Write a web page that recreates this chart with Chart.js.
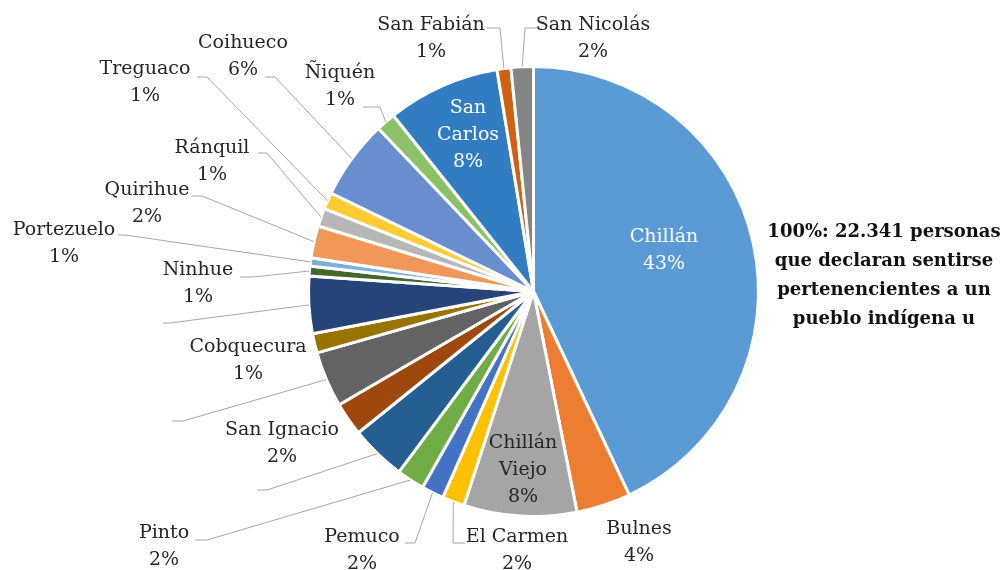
<!DOCTYPE html>
<html>
<head>
<meta charset="utf-8">
<script src="https://cdn.jsdelivr.net/npm/chart.js@4/dist/chart.umd.min.js"></script>
<style>
  body { margin: 0; background: #fff; }
  #wrap { width: 1008px; height: 570px; }
</style>
</head>
<body>
<div id="wrap"><canvas id="pie" width="1008" height="570"></canvas></div>
<script>
// comunas de Ñuble, en el orden del gráfico (sentido horario desde arriba)
const comunas = [
  "Chillán", "Bulnes", "Chillán Viejo", "El Carmen", "Pemuco", "Pinto", "Quillón",
  "San Ignacio", "Yungay", "Cobquecura", "Coelemu", "Ninhue", "Portezuelo", "Quirihue",
  "Ránquil", "Treguaco", "Coihueco", "Ñiquén", "San Carlos", "San Fabián", "San Nicolás"
];
// porcentaje (aprox.)
const porcentajes = [
  43.0, 3.9, 8.1, 1.6, 1.6, 2.0, 4.0,
  2.4, 4.0, 1.4, 4.1, 0.7, 0.6, 2.3,
  1.3, 1.2, 5.7, 1.4, 8.1, 1.0, 1.6
];
const colores = [
  "#5B9BD5", "#ED7D31", "#A5A5A5", "#FFC000", "#4472C4", "#70AD47", "#255E91",
  "#9E480E", "#636363", "#997300", "#264478", "#43682B", "#7CAFDD", "#F1975A",
  "#B7B7B7", "#FFCD33", "#698ED0", "#8CC168", "#327DC2", "#D26012", "#848484"
];
const nota = [
  "100%: 22.341 personas",
  "que declaran sentirse",
  "pertenencientes a un",
  "pueblo indígena u"
];

// donde va cada etiqueta: t = centro del texto (1a linea), codo = [x, y, x fin del tramo horizontal]
const posiciones = [
  { t: [664, 237], dentro: true, color: "#fff" },
  { t: [639, 529] },
  { t: [523, 443], dentro: true, partir: true },
  { t: [517, 537], codo: [453, 543, 465] },
  { t: [362, 537], codo: [415, 543, 405] },
  { t: [164, 533], codo: [207, 540, 195] },
  { oculta: true, codo: [267, 490, 257] },
  { t: [282, 430] },
  { oculta: true, codo: [183, 421, 172] },
  { t: [248, 347] },
  { oculta: true, codo: [170, 323, 163] },
  { t: [198, 270], codo: [253, 277, 240] },
  { t: [64, 230], codo: [125, 235, 118] },
  { t: [147, 190], codo: [202, 196, 192] },
  { t: [212, 148], codo: [267, 153, 258] },
  { t: [145, 69], codo: [207, 77, 197] },
  { t: [243, 43], codo: [275, 77, 265] },
  { t: [340, 73], codo: [380, 107, 363] },
  { t: [468, 108], dentro: true, partir: true, color: "#fff" },
  { t: [431, 25], codo: [500, 28, 487] },
  { t: [593, 25], codo: [525, 28, 537] }
];

const fuente = "19px 'DejaVu Serif'";

const etiquetas = {
  id: "etiquetas",
  afterDatasetsDraw(chart) {
    const ctx = chart.ctx;
    const meta = chart.getDatasetMeta(0);
    const total = porcentajes.reduce((a, b) => a + b, 0);
    meta.data.forEach((arc, i) => {
      const p = arc.getProps(["x", "y", "startAngle", "endAngle", "outerRadius"], true);
      const mid = (p.startAngle + p.endAngle) / 2;
      const pos = posiciones[i];
      ctx.save();
      if (pos.codo) {
        const sx = p.x + Math.cos(mid) * p.outerRadius;
        const sy = p.y + Math.sin(mid) * p.outerRadius;
        ctx.strokeStyle = "#a6a6a6";
        ctx.lineWidth = 1;
        ctx.beginPath();
        ctx.moveTo(sx, sy);
        ctx.lineTo(pos.codo[0], pos.codo[1]);
        ctx.lineTo(pos.codo[2], pos.codo[1]);
        ctx.stroke();
      }
      if (!pos.oculta) {
        const lineas = pos.partir ? comunas[i].split(" ") : [comunas[i]];
        lineas.push(Math.round(porcentajes[i] / total * 100) + "%");
        ctx.font = fuente;
        ctx.fillStyle = pos.color || "#262626";
        ctx.textAlign = "center";
        ctx.textBaseline = "middle";
        lineas.forEach((l, k) => ctx.fillText(l, pos.t[0], pos.t[1] + k * 27));
      }
      ctx.restore();
    });

    // nota a la derecha
    ctx.save();
    ctx.font = "bold 18px 'DejaVu Serif'";
    ctx.fillStyle = "#111";
    ctx.textAlign = "center";
    ctx.textBaseline = "middle";
    nota.forEach((l, k) => ctx.fillText(l, 884, 232 + k * 29));
    ctx.restore();
  }
};

new Chart(document.getElementById("pie"), {
  type: "pie",
  data: {
    labels: comunas,
    datasets: [{
      data: porcentajes,
      backgroundColor: colores,
      borderColor: "#fff",
      borderWidth: 3
    }]
  },
  options: {
    responsive: false,
    animation: false,
    layout: { padding: { left: 307, right: 248, top: 65, bottom: 52 } },
    plugins: {
      legend: { display: false },
      tooltip: { enabled: false }
    }
  },
  plugins: [etiquetas]
});
</script>
</body>
</html>
